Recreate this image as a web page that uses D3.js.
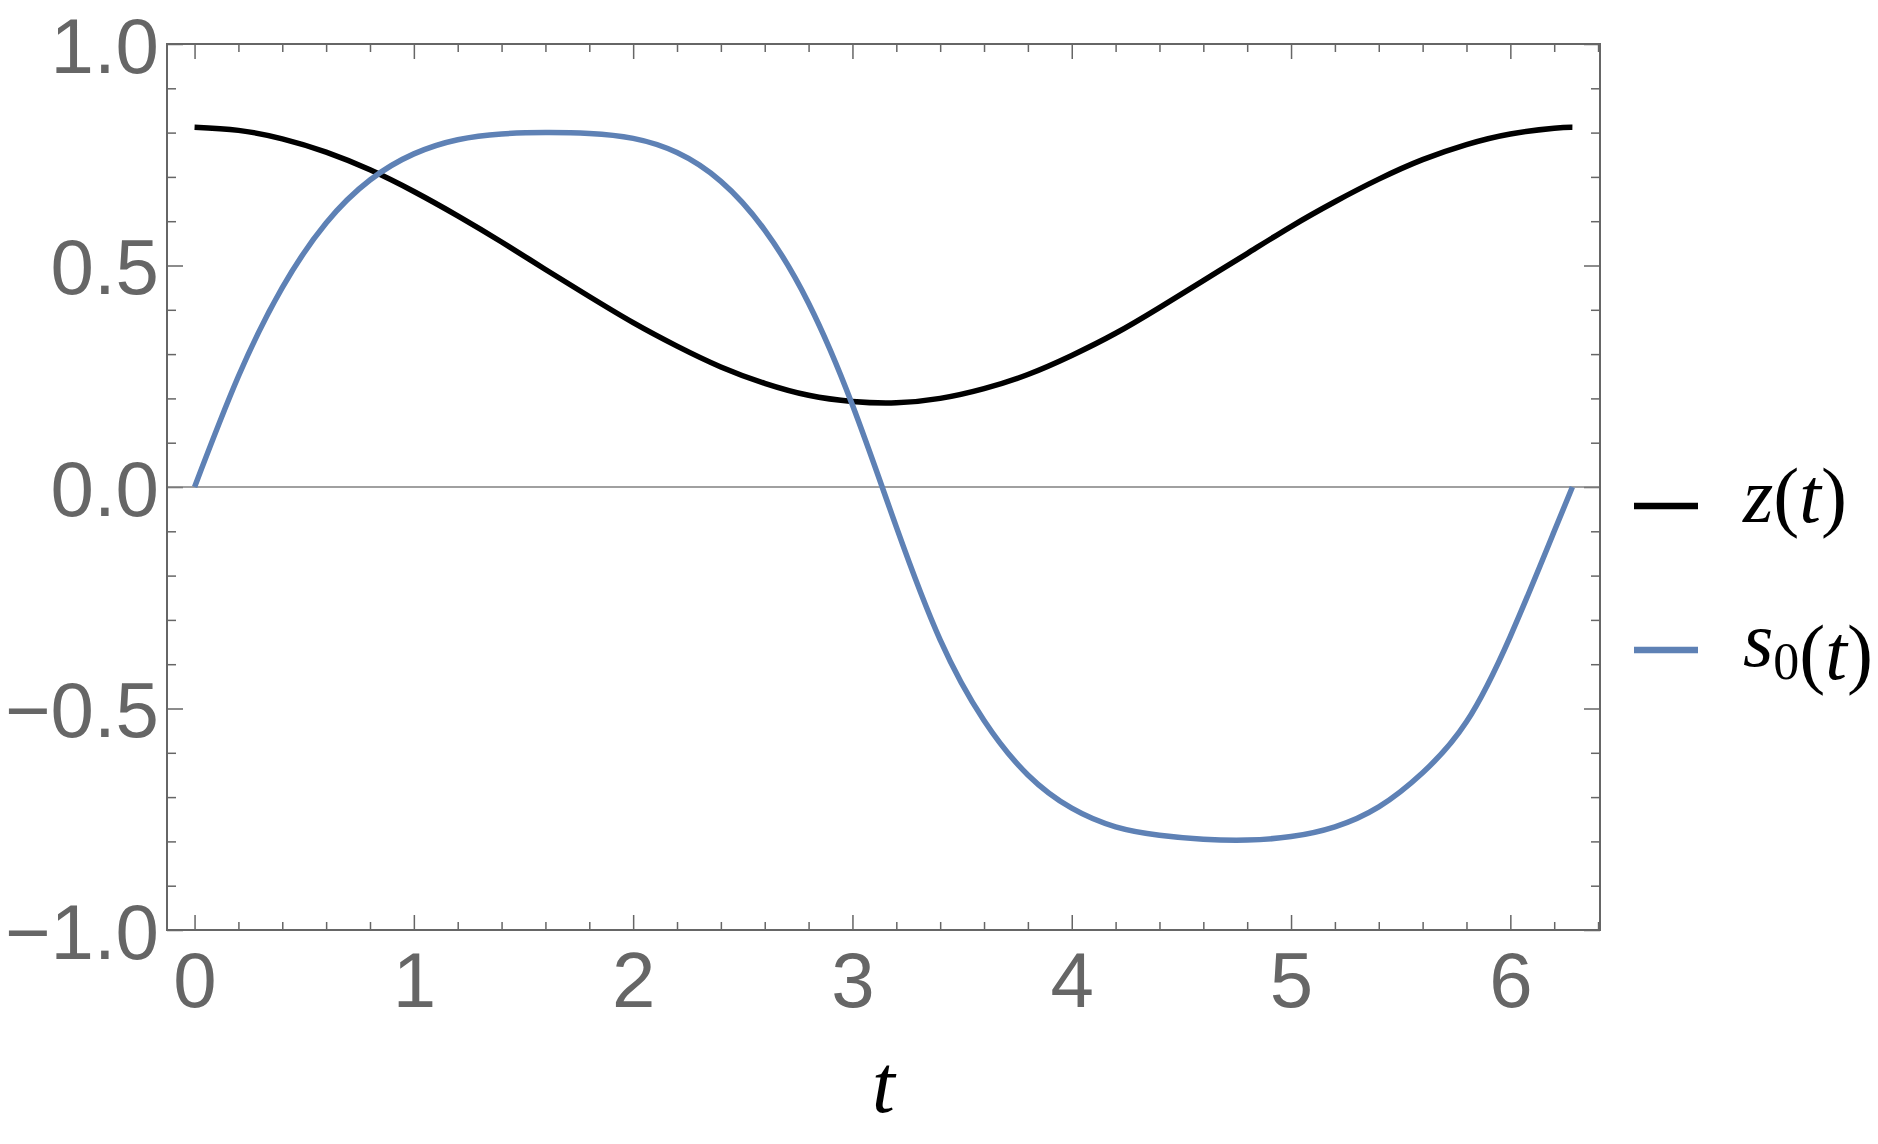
<!DOCTYPE html>
<html>
<head>
<meta charset="utf-8">
<script src="https://cdn.jsdelivr.net/npm/d3@7"></script>
<style>
  html, body { margin: 0; padding: 0; background: #ffffff; }
  svg { display: block; }
</style>
</head>
<body>
<svg id="chart" width="1878" height="1144"></svg>
<script>
// ---- data ----
const tValues = [0, 0.2, 0.4, 0.6, 0.8, 1.0, 1.2, 1.4, 1.6, 1.8, 2.0, 2.2, 2.4, 2.6, 2.8, 3.0,
                 3.2, 3.4, 3.6, 3.8, 4.0, 4.2, 4.4, 4.6, 4.8, 5.0, 5.2, 5.4, 5.6, 5.8, 6.0, 6.2, 6.283];
const zValues = [0.812, 0.805, 0.786, 0.756, 0.716, 0.667, 0.612, 0.553, 0.491, 0.430, 0.371, 0.318,
                 0.271, 0.234, 0.207, 0.193, 0.190, 0.200, 0.222, 0.254, 0.297, 0.347, 0.405, 0.466,
                 0.527, 0.588, 0.644, 0.695, 0.739, 0.773, 0.797, 0.810, 0.812];
const s0Values = [0.000, 0.250, 0.450, 0.596, 0.693, 0.752, 0.784, 0.797, 0.800, 0.798, 0.787, 0.755,
                  0.690, 0.580, 0.415, 0.185, -0.090, -0.345, -0.527, -0.650, -0.725, -0.767, -0.786,
                  -0.795, -0.797, -0.789, -0.767, -0.722, -0.645, -0.530, -0.337, -0.100, 0.000];
const xMajorTicks = [0, 1, 2, 3, 4, 5, 6];
const yMajorTicks = [-1.0, -0.5, 0.0, 0.5, 1.0];
const seriesNames = ["z", "s0"];
const seriesColors = ["#000000", "#5E81B5"];

// ---- layout ----
const svg = d3.select("#chart");
const L = 167, R = 1600, T = 44, B = 930;
const xMin = 0, xMax = 2 * Math.PI, pad = 0.02 * (xMax - xMin);
const x = d3.scaleLinear().domain([xMin - pad, xMax + pad]).range([L, R]);
const y = d3.scaleLinear().domain([-1, 1]).range([B, T]);

const frameColor = "#666666";
const labelFont = "'Liberation Sans', Arial, sans-serif";
const mathFont = "'Liberation Serif', 'Times New Roman', serif";

// minor tick values
const xMinor = d3.range(0, 6.41, 0.2).map(v => +v.toFixed(2)).filter(v => Math.abs(v - Math.round(v)) > 1e-6);
const yMinor = d3.range(-1, 1.001, 0.1).map(v => +v.toFixed(2)).filter(v => Math.abs(v * 2 - Math.round(v * 2)) > 1e-6);

function styleAxis(g) {
  g.select(".domain").remove();
  g.selectAll(".tick line").attr("stroke", frameColor).attr("stroke-width", 1.5);
  g.selectAll(".tick text").attr("fill", frameColor).attr("font-family", labelFont).attr("font-size", 78);
}

// bottom
svg.append("g").attr("transform", `translate(0,${B})`)
  .call(d3.axisBottom(x).tickValues(xMajorTicks).tickSize(-15).tickPadding(22).tickFormat(d3.format("d")))
  .call(styleAxis);
svg.append("g").attr("transform", `translate(0,${B})`)
  .call(d3.axisBottom(x).tickValues(xMinor).tickSize(-8).tickFormat(""))
  .call(styleAxis);
// top
svg.append("g").attr("transform", `translate(0,${T})`)
  .call(d3.axisTop(x).tickValues(xMajorTicks).tickSize(-15).tickFormat(""))
  .call(styleAxis);
svg.append("g").attr("transform", `translate(0,${T})`)
  .call(d3.axisTop(x).tickValues(xMinor).tickSize(-8).tickFormat(""))
  .call(styleAxis);
// left
svg.append("g").attr("transform", `translate(${L},0)`)
  .call(d3.axisLeft(y).tickValues(yMajorTicks).tickSize(-16).tickPadding(8).tickFormat(d3.format(".1f")))
  .call(styleAxis)
  .call(g => g.selectAll(".tick text").attr("dy", "0.36em"));
svg.append("g").attr("transform", `translate(${L},0)`)
  .call(d3.axisLeft(y).tickValues(yMinor).tickSize(-9).tickFormat(""))
  .call(styleAxis);
// right
svg.append("g").attr("transform", `translate(${R},0)`)
  .call(d3.axisRight(y).tickValues(yMajorTicks).tickSize(-16).tickFormat(""))
  .call(styleAxis);
svg.append("g").attr("transform", `translate(${R},0)`)
  .call(d3.axisRight(y).tickValues(yMinor).tickSize(-9).tickFormat(""))
  .call(styleAxis);

// zero axis line
svg.append("line")
  .attr("x1", L).attr("x2", R).attr("y1", y(0)).attr("y2", y(0))
  .attr("stroke", "#808080").attr("stroke-width", 1.3);

// frame
svg.append("rect")
  .attr("x", L).attr("y", T).attr("width", R - L).attr("height", B - T)
  .attr("fill", "none").attr("stroke", frameColor).attr("stroke-width", 2);

// curves
const line = d3.line().x(d => x(d[0])).y(d => y(d[1])).curve(d3.curveNatural);
const seriesData = [zValues, s0Values];
seriesData.forEach((vals, i) => {
  svg.append("path")
    .datum(tValues.map((t, k) => [t, vals[k]]))
    .attr("fill", "none")
    .attr("stroke", seriesColors[i])
    .attr("stroke-width", 5.5)
    .attr("stroke-linejoin", "round")
    .attr("d", line);
});

// axis label
svg.append("text")
  .attr("x", (L + R) / 2).attr("y", 1112)
  .attr("text-anchor", "middle")
  .attr("font-family", mathFont).attr("font-style", "italic").attr("font-size", 82)
  .attr("fill", "#000").text("t");

// legend
const legendY = [506, 650];
seriesNames.forEach((name, i) => {
  svg.append("line")
    .attr("x1", 1634).attr("x2", 1698).attr("y1", legendY[i]).attr("y2", legendY[i])
    .attr("stroke", seriesColors[i]).attr("stroke-width", 6.5);
  const txt = svg.append("text")
    .attr("x", 1743).attr("y", legendY[i] + 16)
    .attr("font-family", mathFont).attr("font-size", 78).attr("fill", "#000");
  if (name === "z") {
    txt.append("tspan").attr("font-style", "italic").text("z");
  } else {
    txt.append("tspan").attr("font-style", "italic").text("s");
    txt.append("tspan").attr("font-size", 52).attr("dy", 13).text("0");
    txt.append("tspan").attr("dy", -13).text("");
  }
  txt.append("tspan").text("(");
  txt.append("tspan").attr("font-style", "italic").text("t");
  txt.append("tspan").text(")");
});
</script>
</body>
</html>
